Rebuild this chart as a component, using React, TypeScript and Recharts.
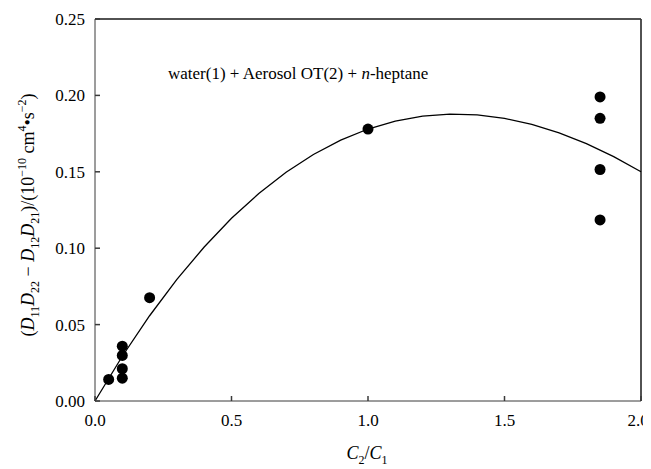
import React from "react";
import {
  ComposedChart,
  Scatter,
  XAxis,
  YAxis,
  ReferenceLine,
  Customized,
} from "recharts";

// measured points
const pointX = [0.05, 0.1, 0.1, 0.1, 0.1, 0.2, 1.0, 1.85, 1.85, 1.85, 1.85];
const pointY = [0.0141, 0.0359, 0.0298, 0.0211, 0.0149, 0.0676, 0.178, 0.199, 0.185, 0.1515, 0.1185];

// fitted curve
const curveX = [0, 0.1, 0.2, 0.3, 0.4, 0.5, 0.6, 0.7, 0.8, 0.9, 1.0, 1.1, 1.2, 1.3, 1.4, 1.5, 1.6, 1.7, 1.8, 1.9, 2.0];
const curveY = [0, 0.0293, 0.0558, 0.0796, 0.1008, 0.1196, 0.1358, 0.1497, 0.1613, 0.1707, 0.178, 0.1832, 0.1864, 0.1877, 0.1872, 0.185, 0.181, 0.1755, 0.1684, 0.1599, 0.15];

const xTicks = [0, 0.5, 1.0, 1.5, 2.0];
const yTicks = [0, 0.05, 0.1, 0.15, 0.2, 0.25];

const points = pointX.map((x, i) => ({ x, y: pointY[i] }));
const curve = curveX.map((x, i) => ({ x, y: curveY[i] }));

const AXIS = "#3a3a3a";
const GAP = 10;
const TICK = 5;
const FAMILY = "Liberation Serif, DejaVu Serif, serif";
const SERIF = { fontFamily: FAMILY };

const LeftTick = ({ x, y, payload }: any) => (
  <g>
    <line x1={x + GAP} x2={x + GAP + TICK} y1={y} y2={y} stroke={AXIS} strokeWidth={1.5} />
    <text x={x} y={y + 6} textAnchor="end" fontFamily={FAMILY} style={SERIF} fontSize={17} fill="#000">
      {Number(payload.value).toFixed(2)}
    </text>
  </g>
);

const RightTick = ({ x, y }: any) => (
  <line x1={x - GAP} x2={x - GAP - TICK} y1={y} y2={y} stroke={AXIS} strokeWidth={1.5} />
);

const BottomTick = ({ x, y, payload, index }: any) => (
  <g>
    <line x1={x} x2={x} y1={y - GAP} y2={y - GAP - TICK} stroke={AXIS} strokeWidth={1.5} />
    <text
      x={index === xTicks.length - 1 ? x - 3 : x}
      y={y + 15}
      textAnchor="middle"
      fontFamily={FAMILY}
      style={SERIF}
      fontSize={17}
      fill="#000"
    >
      {Number(payload.value).toFixed(1)}
    </text>
  </g>
);

const TopTick = ({ x, y }: any) => (
  <line x1={x} x2={x} y1={y + GAP} y2={y + GAP + TICK} stroke={AXIS} strokeWidth={1.5} />
);

const Titles = () => {
  const cx = 34;
  const cy = 215;
  return (
    <g fontFamily={FAMILY} style={SERIF}>
      <text
        x={cx}
        y={cy}
        transform={`rotate(-90 ${cx} ${cy})`}
        textAnchor="middle"
        fontFamily={FAMILY}
        style={SERIF}
        fontSize={18}
        fill="#000"
      >
        <tspan>(</tspan>
        <tspan fontStyle="italic">D</tspan>
        <tspan fontSize={12} dy={5}>11</tspan>
        <tspan fontStyle="italic" dy={-5}>D</tspan>
        <tspan fontSize={12} dy={5}>22</tspan>
        <tspan dy={-5}> − </tspan>
        <tspan fontStyle="italic">D</tspan>
        <tspan fontSize={12} dy={5}>12</tspan>
        <tspan fontStyle="italic" dy={-5}>D</tspan>
        <tspan fontSize={12} dy={5}>21</tspan>
        <tspan dy={-5}>)/(10</tspan>
        <tspan fontSize={12} dy={-8}>−10</tspan>
        <tspan dy={8}> cm</tspan>
        <tspan fontSize={12} dy={-8}>4</tspan>
        <tspan dy={8}>•s</tspan>
        <tspan fontSize={12} dy={-8}>−2</tspan>
        <tspan dy={8}>)</tspan>
      </text>
      <text x={367} y={459} textAnchor="middle" fontFamily={FAMILY} style={SERIF} fontSize={18} fill="#000">
        <tspan fontStyle="italic">C</tspan>
        <tspan fontSize={12} dy={5}>2</tspan>
        <tspan dy={-5}>/</tspan>
        <tspan fontStyle="italic">C</tspan>
        <tspan fontSize={12} dy={5}>1</tspan>
      </text>
      <text x={168} y={79} fontFamily={FAMILY} style={SERIF} fontSize={17} fill="#000">
        water(1) + Aerosol OT(2) + <tspan fontStyle="italic">n</tspan>-heptane
      </text>
    </g>
  );
};

export default function App() {
  return (
    <div style={{ marginLeft: -8, marginTop: -8, width: 651, height: 469, fontFamily: FAMILY }}>
      <ComposedChart
        width={651}
        height={469}
        style={SERIF}
        margin={{ top: 0, right: 0, bottom: 0, left: 0 }}
      >
        <XAxis
          xAxisId="b"
          type="number"
          dataKey="x"
          domain={[0, 2]}
          ticks={xTicks}
          height={68}
          tickSize={0}
          tickMargin={GAP}
          tick={<BottomTick />}
          stroke={AXIS}
        />
        <XAxis
          xAxisId="t"
          orientation="top"
          type="number"
          dataKey="x"
          domain={[0, 2]}
          ticks={xTicks}
          height={19}
          tickSize={0}
          tickMargin={GAP}
          tick={<TopTick />}
          stroke={AXIS}
        />
        <YAxis
          yAxisId="l"
          type="number"
          domain={[0, 0.25]}
          ticks={yTicks}
          width={95}
          tickSize={0}
          tickMargin={GAP}
          tick={<LeftTick />}
          stroke={AXIS}
        />
        <YAxis
          yAxisId="r"
          orientation="right"
          type="number"
          domain={[0, 0.25]}
          ticks={yTicks}
          width={10}
          tickSize={0}
          tickMargin={GAP}
          tick={<RightTick />}
          stroke={AXIS}
        />
        <ReferenceLine xAxisId="b" yAxisId="l" y={0.25} stroke={AXIS} strokeWidth={1.5} />
        <ReferenceLine xAxisId="b" yAxisId="l" x={2} stroke={AXIS} strokeWidth={1.5} />
        <Scatter
          xAxisId="b"
          yAxisId="l"
          data={curve}
          dataKey="y"
          line={{ stroke: "#000", strokeWidth: 1.3 }}
          lineType="joint"
          shape={() => <g />}
          isAnimationActive={false}
        />
        <Scatter
          xAxisId="b"
          yAxisId="l"
          data={points}
          dataKey="y"
          fill="#000"
          shape={(p: any) => <circle cx={p.cx} cy={p.cy} r={5.5} fill="#000" />}
          isAnimationActive={false}
        />
        <Customized component={Titles} />
      </ComposedChart>
    </div>
  );
}
